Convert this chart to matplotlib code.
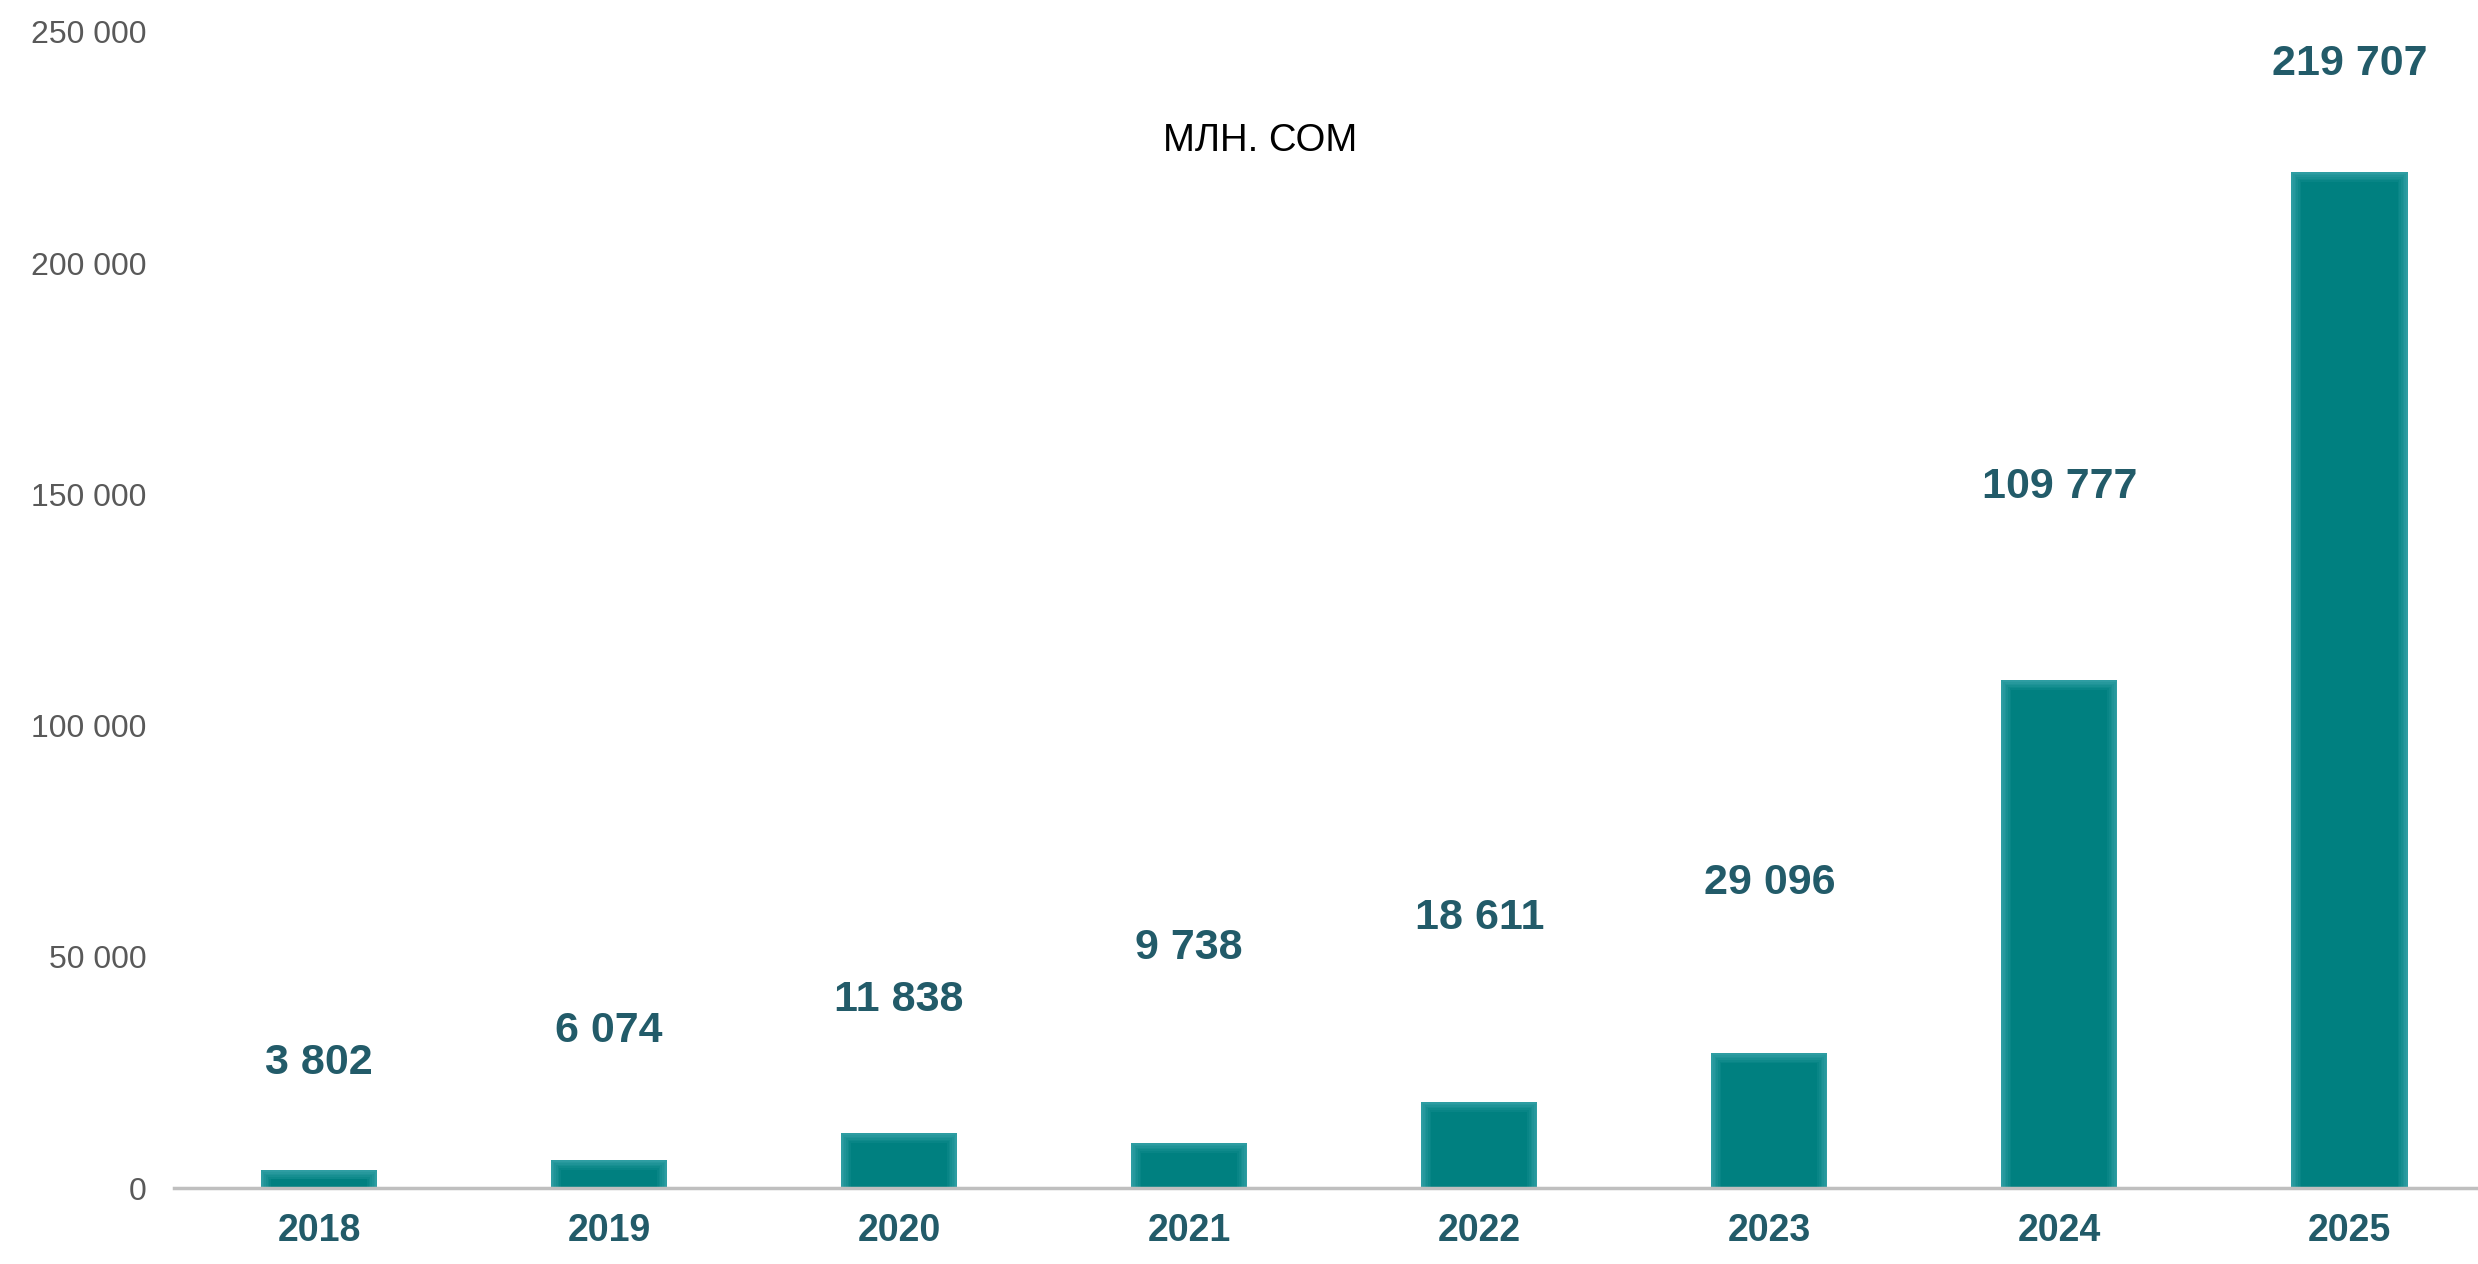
#!/usr/bin/env python3
# -*- coding: utf-8 -*-

"""
Bar chart: yearly volume, mln. som (2018-2025).
"""

import matplotlib
matplotlib.use("Agg")
import matplotlib.pyplot as plt
import numpy as np
from matplotlib.colors import to_rgb


YEARS = ["2018", "2019", "2020", "2021", "2022", "2023", "2024", "2025"]
VALUES = [3802, 6074, 11838, 9738, 18611, 29096, 109777, 219707]
VALUE_LABELS = ["3 802", "6 074", "11 838", "9 738", "18 611", "29 096", "109 777", "219 707"]
Y_TICKS = [0, 50000, 100000, 150000, 200000, 250000]
Y_TICK_LABELS = ["0", "50 000", "100 000", "150 000", "200 000", "250 000"]
TITLE = "МЛН. СОМ"

# label heights as placed in the source chart (data units)
LABEL_Y = [27900, 34800, 41600, 52900, 59400, 66900, 152400, 243900]

BAR_COLOR = "#008080"
BAR_EDGE = "#2E9DA2"
LABEL_COLOR = "#225B69"
TICK_COLOR = "#595959"


def draw_soft_bars(ax, x, values, width=0.40, layers=6):
    # soft inner glow: stack of shrinking bars, light at the rim, teal in the core
    edge = np.array(to_rgb(BAR_EDGE))
    core = np.array(to_rgb(BAR_COLOR))
    dx = 0.0345 / layers      # ~10 px per side in total
    dy = 2100.0 / layers      # ~10 px at the top in total
    vals = np.array(values, dtype=float)
    for k in range(layers + 1):
        t = k / layers
        c = edge * (1 - t) + core * t
        ax.bar(x, np.maximum(vals - k * dy, vals * 0.5), width=width - 2 * k * dx,
               color=c, linewidth=0, zorder=2 + k * 0.01)


def main():
    plt.rcParams["font.family"] = ["Liberation Sans", "DejaVu Sans"]

    fig = plt.figure(figsize=(24.78, 12.64), dpi=100)
    ax = fig.add_axes([0.0702, 0.0601, 0.9298, 0.9146])

    x = np.arange(len(YEARS))
    draw_soft_bars(ax, x, VALUES)

    for i, lab in enumerate(VALUE_LABELS):
        ax.annotate(lab, (i, LABEL_Y[i]), xytext=(0, -3), textcoords="offset points",
                    ha="center", va="center", fontsize=31, fontweight="bold", color=LABEL_COLOR)

    ax.text(0.4714, 0.906, TITLE, transform=ax.transAxes,
            ha="center", va="center", fontsize=27.5, color="black")

    ax.set_xlim(-0.5, 7.443)
    ax.set_ylim(0, 250000)

    ax.set_xticks(x)
    ax.set_xticklabels(YEARS, fontsize=27, fontweight="bold", color=LABEL_COLOR)
    ax.set_yticks(Y_TICKS)
    ax.set_yticklabels(Y_TICK_LABELS, fontsize=23, color=TICK_COLOR)
    ax.tick_params(axis="x", length=0, pad=18)
    ax.tick_params(axis="y", length=0, pad=20)

    for side in ["top", "right", "left"]:
        ax.spines[side].set_visible(False)
    ax.spines["bottom"].set_color("#BFBFBF")
    ax.spines["bottom"].set_linewidth(2.5)
    ax.spines["bottom"].set_zorder(3)

    fig.savefig("out.png", dpi=100)
    plt.close(fig)


if __name__ == "__main__":
    main()
